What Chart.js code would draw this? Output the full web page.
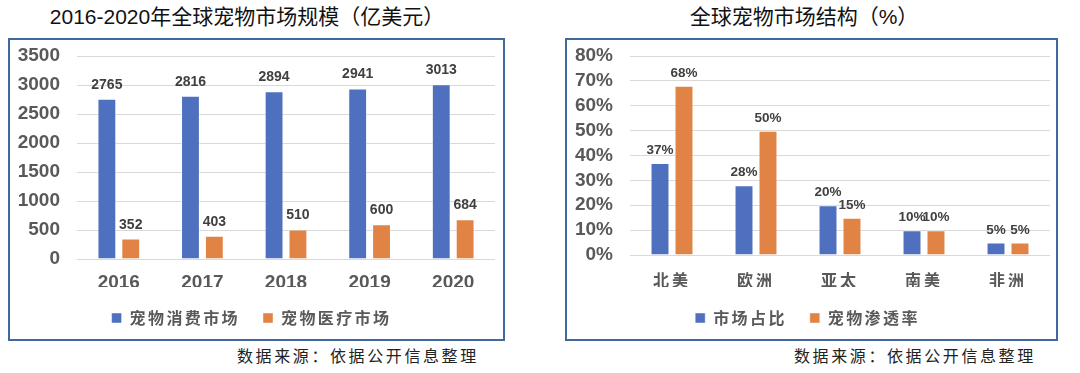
<!DOCTYPE html>
<html><head><meta charset="utf-8">
<script src="https://cdn.jsdelivr.net/npm/chart.js@4/dist/chart.umd.min.js"></script>
<style>
body{margin:0;width:1080px;height:373px;background:#fff;position:relative;overflow:hidden;font-family:"Liberation Sans","Noto Sans CJK SC",sans-serif}
.title{position:absolute;top:6px;font-size:21px;line-height:21px;color:#111;white-space:nowrap;transform:translateX(-50%);font-family:"Liberation Sans","Noto Sans CJK SC",sans-serif}
.box{position:absolute;border:2px solid #41699F;box-sizing:border-box}
.src{position:absolute;top:347px;font-family:"Noto Sans CJK SC",sans-serif;font-size:16px;line-height:16px;letter-spacing:2.6px;color:#222;white-space:nowrap}
canvas{position:absolute}
</style></head><body>
<div class="title" style="left:247px">2016-2020年全球宠物市场规模（亿美元）</div>
<div class="title" style="left:804px">全球宠物市场结构（%）</div>
<div class="box" style="left:8px;top:38px;width:497px;height:303px"></div>
<div class="box" style="left:565px;top:38px;width:493px;height:303px"></div>
<canvas id="c1" width="497" height="298" style="left:8px;top:38px"></canvas>
<canvas id="c2" width="493" height="298" style="left:565px;top:38px"></canvas>
<div class="src" style="left:237px">数据来源：依据公开信息整理</div>
<div class="src" style="left:794px">数据来源：依据公开信息整理</div>
<script>
// ---- data ----
const years = ['2016','2017','2018','2019','2020'];
const consumerMarket = [2765, 2816, 2894, 2941, 3013];
const medicalMarket = [352, 403, 510, 600, 684];
const leftSeriesNames = ['宠物消费市场', '宠物医疗市场'];

const regions = ['北美','欧洲','亚太','南美','非洲'];
const marketShare = [37, 28, 20, 10, 5];
const penetration = [68, 50, 15, 10, 5];
const rightSeriesNames = ['市场占比', '宠物渗透率'];

// ---- styling ----
const BLUE = '#4E70BE', ORANGE = '#E08344';
const TICK = '#595959', GRID = '#D9D9D9';
const NUMFONT = "'Liberation Sans', Arial, sans-serif";
const CJKFONT = "'Noto Sans CJK SC', sans-serif";

function wrap(obj, m, chart, sp){
  const o = obj[m];
  obj[m] = function(...a){
    const c = chart.ctx; const p = c.letterSpacing;
    c.letterSpacing = sp + 'px';
    try { return o.apply(this, a); } finally { c.letterSpacing = p; }
  };
}
function spacing(legendSp, xSp){
  return {
    id: 'spacing',
    afterInit(chart){ const lg = chart.legend; if (lg && legendSp){ wrap(lg,'fit',chart,legendSp); wrap(lg,'draw',chart,legendSp); } },
    afterUpdate(chart){ const x = chart.scales.x; if (xSp && x && !x._sp){ wrap(x,'drawLabels',chart,xSp); x._sp = true; } }
  };
}
const valueLabels = {
  id: 'vlabels',
  afterDatasetsDraw(chart, args, opts){
    const ctx = chart.ctx; ctx.save();
    ctx.font = opts.font; ctx.fillStyle = opts.color;
    ctx.textAlign = 'center'; ctx.textBaseline = 'alphabetic';
    chart.data.datasets.forEach((ds, i) => {
      const meta = chart.getDatasetMeta(i);
      meta.data.forEach((el, j) => { ctx.fillText(ds.data[j] + opts.suffix, el.x, el.y - opts.gap); });
    });
    ctx.restore();
  }
};

function makeChart(id, cfg){
  const canvas = document.getElementById(id);
  return new Chart(canvas, {
    type: 'bar',
    data: {
      labels: cfg.labels,
      datasets: cfg.series.map((s, i) => ({
        label: s.name, data: s.data,
        backgroundColor: i ? ORANGE : BLUE,
        borderColor: 'rgba(255,255,255,0.45)', borderWidth: 1,
        categoryPercentage: 0.571, barPercentage: 0.79
      }))
    },
    options: {
      responsive: false, animation: false,
      layout: { padding: { top: cfg.padTop, right: cfg.padRight, left: 0, bottom: 0 } },
      plugins: {
        legend: {
          position: 'bottom',
          labels: { boxWidth: 10, boxHeight: 10, padding: 23, color: TICK,
                    font: { family: CJKFONT, size: 16, weight: 'bold' } }
        },
        tooltip: { enabled: false },
        vlabels: { font: 'bold ' + cfg.labelSize + 'px ' + NUMFONT, color: '#404040', gap: cfg.gap, suffix: cfg.suffix }
      },
      scales: {
        x: {
          grid: { display: false }, border: { display: false },
          ticks: { color: TICK, padding: cfg.xPad, font: cfg.xFont },
          afterFit(s){ const c = s.chart; s.height = c.height - c.legend.height - cfg.bottom; }
        },
        y: {
          min: 0, max: cfg.max,
          grid: { color: GRID, lineWidth: 1, drawTicks: true, tickLength: 17, tickColor: 'rgba(0,0,0,0)' },
          border: { display: false },
          ticks: { stepSize: cfg.step, autoSkip: false, color: TICK, padding: 0,
                   font: { family: NUMFONT, size: 19, weight: 'bold' },
                   callback: v => v + cfg.suffix },
          afterFit(s){ s.width = cfg.yWidth; }
        }
      }
    },
    plugins: [valueLabels, spacing(2.4, cfg.xSpacing)]
  });
}

makeChart('c1', {
  labels: years,
  series: [{name: leftSeriesNames[0], data: consumerMarket}, {name: leftSeriesNames[1], data: medicalMarket}],
  max: 3500, step: 500, suffix: '', yWidth: 69, padRight: 10, padTop: 18, bottom: 221,
  labelSize: 14, gap: 10, xPad: 4, xSpacing: 0,
  xFont: { family: NUMFONT, size: 19, weight: 'bold' }
});
makeChart('c2', {
  labels: regions,
  series: [{name: rightSeriesNames[0], data: marketShare}, {name: rightSeriesNames[1], data: penetration}],
  max: 80, step: 10, suffix: '%', yWidth: 65, padRight: 8, padTop: 18, bottom: 217,
  labelSize: 13.5, gap: 9, xPad: 7, xSpacing: 3,
  xFont: { family: CJKFONT, size: 16, weight: 'bold' }
});
</script>
</body></html>
